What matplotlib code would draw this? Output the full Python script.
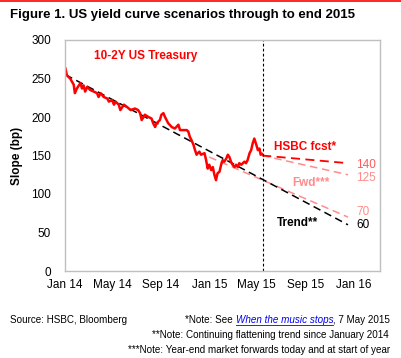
import matplotlib
matplotlib.use("Agg")
import matplotlib.pyplot as plt
import pandas as pd

plt.rcParams['font.family'] = ['Liberation Sans', 'DejaVu Sans']

# ---- data ----
ust_dates = ["2014-01-02","2014-01-06","2014-01-14","2014-01-23","2014-01-26","2014-01-31",
             "2014-02-09","2014-02-13","2014-02-17","2014-02-21","2014-02-26","2014-03-06",
             "2014-03-15","2014-03-23","2014-03-27","2014-04-01","2014-04-09","2014-04-18",
             "2014-04-22","2014-04-30","2014-05-05","2014-05-09","2014-05-17","2014-05-21",
             "2014-05-30","2014-06-07","2014-06-16","2014-06-27","2014-07-05","2014-07-10",
             "2014-07-14","2014-07-22","2014-07-31","2014-08-08","2014-08-12","2014-08-17",
             "2014-08-21","2014-08-29","2014-09-02","2014-09-07","2014-09-11","2014-09-19",
             "2014-09-28","2014-10-06","2014-10-15","2014-10-19","2014-10-27","2014-11-05",
             "2014-11-09","2014-11-13","2014-11-17","2014-11-22","2014-11-26","2014-11-30",
             "2014-12-03","2014-12-07","2014-12-11","2014-12-20","2014-12-24","2014-12-28",
             "2015-01-01","2015-01-06","2015-01-10","2015-01-14","2015-01-18","2015-01-22",
             "2015-01-27","2015-01-31","2015-02-04","2015-02-08","2015-02-13","2015-02-17",
             "2015-02-21","2015-02-25","2015-03-01","2015-03-06","2015-03-10","2015-03-14",
             "2015-03-18","2015-03-23","2015-03-27","2015-03-31","2015-04-04","2015-04-08",
             "2015-04-13","2015-04-17","2015-04-21","2015-04-25","2015-04-30","2015-05-04",
             "2015-05-08","2015-05-11","2015-05-14"]
ust_values = [263,254,250,242,231,237,
              244,237,241,233,239,235,
              233,231,226,231,226,224,
              220,222,216,220,216,209,
              216,213,209,211,209,205,
              196,203,200,198,192,187,
              192,196,203,205,200,192,
              187,185,190,183,183,183,
              181,174,170,164,157,151,
              153,155,151,153,144,133,
              138,131,135,125,118,127,
              129,138,144,142,146,151,
              148,142,138,135,138,135,
              140,138,140,142,140,144,
              153,157,166,172,164,157,
              159,151,152]

trend_dates = ["2014-01-02", "2015-12-18"]
trend_values = [255, 60]
hsbc_dates = ["2015-05-15", "2015-12-18"]
hsbc_values = [150, 140]
fwd_today_dates = ["2015-05-15", "2015-12-18"]
fwd_today_values = [150, 125]
fwd_start_dates = ["2015-01-01", "2015-12-18"]
fwd_start_values = [148, 70]
cutoff_date = "2015-05-16"

xtick_dates = ["2014-01-01","2014-05-01","2014-09-01","2015-01-01","2015-05-01","2015-09-01","2016-01-01"]
xtick_labels = ["Jan 14","May 14","Sep 14","Jan 15","May 15","Sep 15","Jan 16"]
yticks = [0, 50, 100, 150, 200, 250, 300]

# ---- figure ----
fig = plt.figure(figsize=(4.01, 3.58), dpi=100)
W, H = 401, 358
ax = fig.add_axes([65/W, 1-271/H, 315/W, 231/H])

RED = '#ff0000'
PINK = '#ff8c8c'

dt = pd.to_datetime
ax.plot(dt(fwd_start_dates), fwd_start_values, color=PINK, lw=1.1, dashes=(5, 3))
ax.plot(dt(fwd_today_dates), fwd_today_values, color=PINK, lw=1.1, dashes=(5, 3))
ax.plot(dt(trend_dates), trend_values, color='black', lw=1.1, dashes=(5, 3))
ax.plot(dt(hsbc_dates), hsbc_values, color=RED, lw=1.3, dashes=(5, 3))
ax.plot(dt(ust_dates), ust_values, color=RED, lw=1.8)
ax.axvline(dt(cutoff_date), color='black', lw=0.8, dashes=(2.5, 2))

ax.set_xlim(dt("2014-01-01"), dt("2016-03-08"))
ax.set_ylim(0, 300)
ax.set_yticks(yticks)
ax.set_xticks(dt(xtick_dates))
ax.set_xticklabels(xtick_labels)
ax.tick_params(length=0, labelsize=8.5, pad=6)
ax.tick_params(axis='y', pad=10)
for s in ax.spines.values():
    s.set_color('#bfbfbf')
    s.set_linewidth(1)
ax.set_ylabel("Slope (bp)", fontsize=8.5, fontweight='bold', labelpad=6)

# annotations
ax.text(dt("2014-03-15"), 279, "10-2Y US Treasury", color=RED, fontsize=8.5, fontweight='bold', va='center')
ax.text(dt("2015-06-15"), 161, "HSBC fcst*", color=RED, fontsize=8.5, fontweight='bold', va='center')
ax.text(dt("2015-07-30"), 114, "Fwd***", color=PINK, fontsize=8.5, fontweight='bold', va='center')
ax.text(dt("2015-06-20"), 62, "Trend**", color='black', fontsize=8.5, fontweight='bold', va='center')
lab_x = dt("2016-01-08")
ax.text(lab_x, 138, "140", color='#ff5a5a', fontsize=8.5, va='center')
ax.text(lab_x, 121, "125", color=PINK, fontsize=8.5, va='center')
ax.text(lab_x, 77, "70", color=PINK, fontsize=8.5, va='center')
ax.text(lab_x, 60, "60", color='black', fontsize=8.5, va='center')

# title and top rule
fig.add_artist(plt.Line2D([0, 1], [1-0.7/H, 1-0.7/H], color=RED, lw=1.2))
fig.text(10/W, 1-15/H, "Figure 1. US yield curve scenarios through to end 2015",
         fontsize=9.5, fontweight='bold', va='center', ha='left')

# footer
FS = 7.1
fig.text(10/W, 1-320/H, "Source: HSBC, Bloomberg", fontsize=FS, va='center')
fig.text(389/W, 1-335/H, "**Note: Continuing flattening trend since January 2014",
         fontsize=FS, va='center', ha='right')
fig.text(390/W, 1-350/H, "***Note: Year-end market forwards today and at start of year",
         fontsize=FS, va='center', ha='right')
t3 = fig.text(390/W, 1-320/H, ", 7 May 2015", fontsize=FS, va='center', ha='right')
fig.canvas.draw()
r = fig.canvas.get_renderer()
bb = t3.get_window_extent(r)
t2 = fig.text(bb.x0/fig.bbox.width, 1-320/H, "When the music stops", fontsize=FS,
              va='center', ha='right', color='#0000ee', style='italic')
bb2 = t2.get_window_extent(r)
fig.add_artist(plt.Line2D([bb2.x0/fig.bbox.width, bb2.x1/fig.bbox.width],
                          [1-325/H, 1-325/H], color='#0000ee', lw=0.6))
fig.text(bb2.x0/fig.bbox.width, 1-320/H, "*Note: See ", fontsize=FS,
         va='center', ha='right')

fig.savefig("out.png", dpi=100)
